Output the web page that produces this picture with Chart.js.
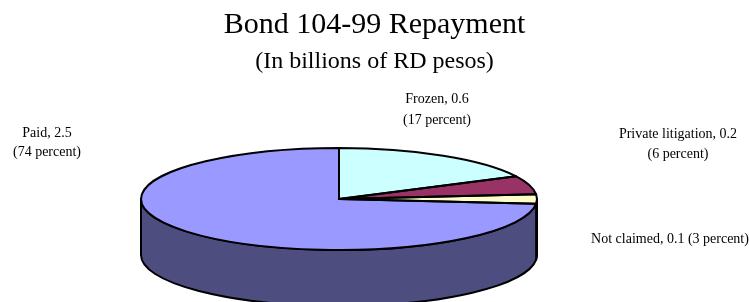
<!DOCTYPE html>
<html>
<head>
<meta charset="utf-8">
<script src="https://cdn.jsdelivr.net/npm/chart.js@4/dist/chart.umd.min.js"></script>
<style>
  html, body { margin: 0; padding: 0; background: #ffffff; }
  #wrap { width: 749px; height: 302px; position: relative; }
</style>
</head>
<body>
<div id="wrap"><canvas id="c" width="749" height="302"></canvas></div>
<script>
// ---- data ----
const titleText = 'Bond 104-99 Repayment';
const subtitleText = '(In billions of RD pesos)';
const categories = ['Frozen', 'Private litigation', 'Not claimed', 'Paid'];
const values = [0.6, 0.2, 0.1, 2.5];
const percents = [17, 6, 3, 74];

// ---- styles / layout ----
const topColors = ['#CCFFFF', '#993366', '#FFFFCC', '#9999FF'];
const sideColors = ['#668080', '#4D1A33', '#80806A', '#4D4D80'];
const geom = { cx: 339, cy: 199, rx: 198, ry: 51, depth: 56 };
const labelLayout = [
  { x: 437, y: 98, lineGap: 21, oneLine: false },
  { x: 678, y: 133, lineGap: 20, oneLine: false },
  { x: 670, y: 238, lineGap: 0, oneLine: true },
  { x: 47, y: 132, lineGap: 19, oneLine: false }
];
const FONT = '"Liberation Serif", "Times New Roman", serif';

function mapCtx(ctx, chart) {
  const a = chart.getDatasetMeta(0).data[0];
  const p = a.getProps(['x', 'y', 'outerRadius'], true);
  ctx.translate(geom.cx, geom.cy);
  ctx.scale(geom.rx / p.outerRadius, geom.ry / p.outerRadius);
  ctx.translate(-p.x, -p.y);
}

const pie3d = {
  id: 'pie3d',
  beforeDatasetsDraw(chart) {
    const ctx = chart.ctx;
    const meta = chart.getDatasetMeta(0);
    ctx.save();
    ctx.lineWidth = 2;
    ctx.strokeStyle = '#000';
    ctx.lineJoin = 'round';
    meta.data.forEach((arc, i) => {
      const { startAngle, endAngle } = arc.getProps(['startAngle', 'endAngle'], true);
      const a0 = Math.max(startAngle, 0);
      const a1 = Math.min(endAngle, Math.PI);
      if (a1 <= a0) return;
      ctx.beginPath();
      ctx.ellipse(geom.cx, geom.cy, geom.rx, geom.ry, 0, a0, a1, false);
      ctx.ellipse(geom.cx, geom.cy + geom.depth, geom.rx, geom.ry, 0, a1, a0, true);
      ctx.closePath();
      ctx.fillStyle = sideColors[i];
      ctx.fill();
      ctx.stroke();
    });
    ctx.restore();
    // top face: let Chart.js draw its arcs into the projected ellipse
    ctx.save();
    mapCtx(ctx, chart);
  },
  afterDatasetsDraw(chart) {
    const ctx = chart.ctx;
    ctx.restore();
    const meta = chart.getDatasetMeta(0);
    ctx.save();
    ctx.lineWidth = 2;
    ctx.strokeStyle = '#000';
    ctx.lineJoin = 'round';
    meta.data.forEach((arc) => {
      const p = arc.getProps(['x', 'y', 'startAngle', 'endAngle', 'outerRadius'], true);
      ctx.save();
      mapCtx(ctx, chart);
      ctx.beginPath();
      ctx.moveTo(p.x, p.y);
      ctx.arc(p.x, p.y, p.outerRadius, p.startAngle, p.endAngle, false);
      ctx.closePath();
      ctx.restore();
      ctx.stroke();
    });
    ctx.restore();
  },
  afterDraw(chart) {
    const ctx = chart.ctx;
    ctx.save();
    ctx.fillStyle = '#000';
    ctx.textAlign = 'center';
    ctx.textBaseline = 'alphabetic';
    ctx.font = '30px ' + FONT;
    ctx.fillText(titleText, 374.5, 33);
    ctx.font = '24px ' + FONT;
    ctx.fillText(subtitleText, 374.5, 68);
    ctx.font = '14px ' + FONT;
    categories.forEach((c, i) => {
      const L = labelLayout[i];
      const line1 = c + ', ' + values[i];
      const line2 = '(' + percents[i] + ' percent)';
      if (L.oneLine) {
        ctx.fillText(line1 + ' ' + line2, L.x, L.y + 5);
      } else {
        ctx.fillText(line1, L.x, L.y + 5);
        ctx.fillText(line2, L.x, L.y + 5 + L.lineGap);
      }
    });
    ctx.restore();
  }
};

new Chart(document.getElementById('c'), {
  type: 'pie',
  data: {
    labels: categories,
    datasets: [{
      data: values,
      backgroundColor: topColors,
      borderWidth: 0,
      clip: false
    }]
  },
  options: {
    responsive: false,
    animation: false,
    events: [],
    layout: { padding: 0 },
    plugins: {
      legend: { display: false },
      tooltip: { enabled: false },
      title: { display: false }
    }
  },
  plugins: [pie3d]
});
</script>
</body>
</html>
